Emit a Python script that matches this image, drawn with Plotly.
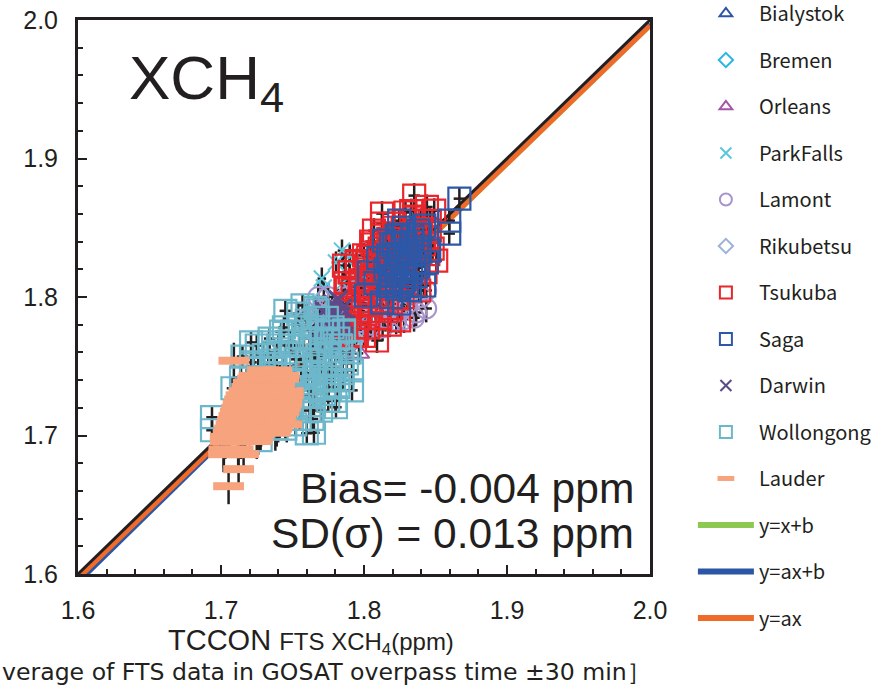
import plotly.graph_objects as go

# ---------------- data (GOSAT vs TCCON XCH4, ppm) ----------------
tsukuba_x = [1.7832,1.7860,1.7870,1.7880,1.7900,1.7920,1.7930,1.7950,1.7960,1.7970,1.7990,1.8000,1.8010,1.8020,1.8040,1.8050,1.8060,1.8070,1.8080,1.8091,1.8100,1.8110,1.8126,1.8126,1.8130,1.8150,1.8160,1.8170,1.8180,1.8200,1.8210,1.8230,1.8246,1.8250,1.8260,1.8280,1.8300,1.8310,1.8330,1.8351,1.8360,1.8380,1.8386,1.8400,1.8420,1.8440,1.8460,1.8491,1.8505,1.8480,1.7950,1.8000,1.8180,1.7900,
             1.787,1.789,1.788,1.790,1.795,1.797,1.796,1.798,1.795,1.803,1.805,1.804,1.806,1.803,1.805,1.811,1.813,1.812,1.814,1.811,1.813,1.819,1.821,1.820,1.822,1.819,1.821,1.827,1.829,1.828,1.830,1.827,1.829,1.835,1.837,1.836,1.838,1.835,1.843,1.845,1.844,1.846]
tsukuba_y = [1.7831,1.8227,1.8100,1.7950,1.8180,1.8050,1.7723,1.8250,1.7900,1.8120,1.8000,1.8300,1.7850,1.8200,1.8080,1.7950,1.8380,1.8479,1.8250,1.7686,1.8150,1.8000,1.8602,1.8530,1.8350,1.8250,1.7900,1.8420,1.8100,1.8300,1.8500,1.8000,1.7831,1.8400,1.8200,1.8550,1.8100,1.8350,1.8620,1.8732,1.8450,1.8250,1.8047,1.8550,1.8380,1.8650,1.8480,1.8623,1.8263,1.8350,1.7780,1.7720,1.7800,1.7850,
             1.779,1.792,1.806,1.818,1.772,1.785,1.797,1.811,1.826,1.778,1.790,1.803,1.816,1.829,1.840,1.785,1.797,1.809,1.822,1.835,1.846,1.792,1.806,1.818,1.829,1.842,1.853,1.800,1.813,1.826,1.839,1.850,1.861,1.809,1.821,1.834,1.848,1.858,1.818,1.831,1.843,1.855]

saga_x = [1.8014,1.8035,1.8080,1.8126,1.8140,1.8150,1.8170,1.8180,1.8200,1.8210,1.8230,1.8246,1.8246,1.8260,1.8270,1.8290,1.8300,1.8320,1.8330,1.8350,1.8360,1.8380,1.8390,1.8421,1.8421,1.8440,1.8456,1.8596,1.8596,1.8667,1.8100,1.8190,
          1.818,1.817,1.819,1.823,1.822,1.824,1.823,1.828,1.827,1.829,1.828,1.833,1.832,1.834,1.838,1.837,1.839,1.830]
saga_y = [1.8011,1.8177,1.8100,1.7960,1.8407,1.8200,1.8300,1.8080,1.8150,1.8380,1.8250,1.7953,1.8551,1.8100,1.8450,1.8200,1.8320,1.8050,1.8400,1.8250,1.8150,1.8480,1.8330,1.8083,1.8515,1.8250,1.8335,1.8551,1.8458,1.8710,1.8280,1.8000,
          1.812,1.825,1.838,1.806,1.818,1.831,1.844,1.812,1.826,1.838,1.850,1.818,1.830,1.843,1.822,1.836,1.845,1.808]

wollongong_x = [1.6937,1.6937,1.7080,1.7210,1.7336,1.7210,1.7570,1.7675,1.7860,1.7916,1.7916,1.7804,1.7600,1.7277,1.7389,
                1.735,1.738,1.740,1.742,1.745,1.748,1.750,1.752,1.755,1.757,1.760,1.762,1.764,1.765,1.768,1.770,1.772,1.775,1.777,1.780,1.782,1.785,1.745,1.730,1.728,1.725,1.755,1.770,
                1.715,1.716,1.714,1.715,1.725,1.724,1.726,1.725,1.735,1.734,1.736,1.735,1.734,1.745,1.744,1.746,1.745,1.744,1.755,1.754,1.756,1.755,1.754,
                1.765,1.764,1.766,1.765,1.764,1.766,1.775,1.774,1.776,1.775,1.774,1.785,1.784,1.786,
                1.720,1.730,1.740,1.750,1.760,1.770,1.780,1.750,1.760,1.740,1.775,1.785,1.765,1.780,1.790,
                1.742,1.748,1.752,1.758,1.762,1.766,1.770,1.772,1.776,1.779,1.782,1.758,1.748,1.738,1.768,1.778,1.788,1.762,1.752,1.740]
wollongong_y = [1.7132,1.7038,1.7341,1.7672,1.7672,1.7528,1.7939,1.7903,1.7759,1.7470,1.7326,1.7204,1.7016,1.6966,1.7052,
                1.745,1.760,1.730,1.775,1.750,1.720,1.765,1.740,1.780,1.728,1.755,1.770,1.712,1.742,1.785,1.760,1.730,1.775,1.748,1.765,1.735,1.755,1.790,1.758,1.740,1.725,1.712,1.718,
                1.715,1.728,1.742,1.757,1.708,1.733,1.748,1.765,1.712,1.725,1.738,1.752,1.770,1.705,1.718,1.732,1.760,1.778,1.720,1.735,1.750,1.765,1.788,
                1.722,1.732,1.752,1.762,1.778,1.792,1.725,1.740,1.758,1.768,1.785,1.740,1.765,1.775,
                1.722,1.715,1.740,1.728,1.745,1.750,1.750,1.775,1.783,1.765,1.735,1.745,1.702,1.725,1.760,
                1.722,1.735,1.755,1.742,1.728,1.745,1.770,1.740,1.752,1.740,1.770,1.770,1.768,1.748,1.758,1.778,1.752,1.718,1.708,1.712]

lauder_x = [1.702,1.712,
            1.703,1.714,1.725,
            1.705,1.716,1.727,1.738,
            1.707,1.718,1.729,1.740,1.746,
            1.709,1.720,1.731,1.742,
            1.711,1.722,1.733,1.745,
            1.713,1.724,1.735,1.746,
            1.716,1.727,1.738,1.747,
            1.719,1.730,1.741,
            1.723,1.733,1.744,
            1.729,1.739,
            1.703,1.714,1.726,
            1.706,1.717,1.728,1.739,
            1.708,1.719,1.730,1.741,
            1.710,1.721,1.732,1.744,
            1.712,1.723,1.734,1.746,
            1.714,1.725,1.736,1.747,
            1.718,1.729,1.740,
            1.722,1.733,1.744,
            1.709,1.7018,1.7158,1.7123,1.7053]
lauder_y = [1.690,1.690,
            1.696,1.696,1.696,
            1.702,1.702,1.702,1.702,
            1.708,1.708,1.708,1.708,1.708,
            1.714,1.714,1.714,1.714,
            1.720,1.720,1.720,1.720,
            1.726,1.726,1.726,1.726,
            1.732,1.732,1.732,1.732,
            1.738,1.738,1.738,
            1.743,1.743,1.743,
            1.747,1.747,
            1.699,1.699,1.699,
            1.705,1.705,1.705,1.705,
            1.711,1.711,1.711,1.711,
            1.717,1.717,1.717,1.717,
            1.723,1.723,1.723,1.723,
            1.729,1.729,1.729,1.729,
            1.735,1.735,1.735,
            1.741,1.741,1.741,
            1.754,1.6865,1.6865,1.6757,1.6634]

darwin_x = [1.770,1.772,1.775,1.776,1.778,1.780,1.781,1.783,1.785,1.773,1.779,1.768,1.786,1.782,1.774,1.777,1.784,1.771,1.779,1.787]
darwin_y = [1.778,1.790,1.770,1.785,1.795,1.776,1.788,1.781,1.792,1.782,1.765,1.772,1.772,1.798,1.776,1.780,1.786,1.784,1.791,1.780]

lamont_x = [1.770,1.775,1.780,1.785,1.790,1.795,1.800,1.805,1.810,1.815,1.820,1.825,1.830,1.835,1.840,1.8435,1.8435,1.8365,1.8225,1.800,1.790,
            1.768,1.778,1.788,1.798,1.808,1.818,1.828,1.783,1.793,1.803,1.813]
lamont_y = [1.790,1.800,1.780,1.795,1.785,1.805,1.790,1.780,1.795,1.785,1.800,1.790,1.795,1.785,1.800,1.8047,1.7917,1.7888,1.7831,1.775,1.770,
            1.800,1.790,1.800,1.782,1.788,1.792,1.784,1.772,1.776,1.798,1.778]

rikubetsu_x = [1.765,1.772,1.780,1.788,1.792,1.760]
rikubetsu_y = [1.775,1.768,1.772,1.778,1.770,1.785]

parkfalls_x = [1.7846,1.7804,1.7705,1.7719,1.790,1.795,1.800,1.785]
parkfalls_y = [1.8335,1.8249,1.8133,1.8068,1.830,1.820,1.815,1.810]

orleans_x = [1.7663,1.7965,1.785,1.800]
orleans_y = [1.7888,1.7593,1.785,1.795]

bialystok_x = [1.810,1.820,1.805]
bialystok_y = [1.810,1.820,1.800]

bremen_x = [1.800,1.810]
bremen_y = [1.810,1.805]

# uncertainties (ppm)
err_x = {"Tsukuba": 0.004, "Saga": 0.004, "Wollongong": 0.004, "Lauder": 0.003, "Darwin": 0.003,
         "Lamont": 0.004, "Rikubetsu": 0.004, "ParkFalls": 0.003, "Orleans": 0.003, "Bialystok": 0.003, "Bremen": 0.003}
err_y = {"Tsukuba": 0.009, "Saga": 0.008, "Wollongong": 0.008, "Lauder": 0.013, "Darwin": 0.008,
         "Lamont": 0.010, "Rikubetsu": 0.008, "ParkFalls": 0.008, "Orleans": 0.008, "Bialystok": 0.008, "Bremen": 0.008}

# regression lines
line_x = [1.6, 2.0]
bias_b = -0.004
fit_a, fit_b = 1.01, -0.0225
prop_a = 0.998

x_ticks = [1.6, 1.7, 1.8, 1.9, 2.0]
y_ticks = [1.6, 1.7, 1.8, 1.9, 2.0]

# ---------------- styles ----------------
sites = [
    ("Bialystok", bialystok_x, bialystok_y, "triangle-up-open", "#2a56a5", 18, 2),
    ("Bremen", bremen_x, bremen_y, "diamond-open", "#29b6e6", 18, 2),
    ("Orleans", orleans_x, orleans_y, "triangle-up-open", "#a555a8", 18, 2),
    ("ParkFalls", parkfalls_x, parkfalls_y, "x-thin", "#5cc6dc", 16, 2),
    ("Lamont", lamont_x, lamont_y, "circle-open", "#a893cc", 20, 2),
    ("Rikubetsu", rikubetsu_x, rikubetsu_y, "diamond-open", "#9db3d5", 18, 2),
    ("Tsukuba", tsukuba_x, tsukuba_y, "square-open", "#e8262b", 22, 2.2),
    ("Saga", saga_x, saga_y, "square-open", "#2c58a7", 22, 2.2),
    ("Darwin", darwin_x, darwin_y, "x-thin", "#5c4a8a", 18, 3),
    ("Wollongong", wollongong_x, wollongong_y, "square-open", "#6db7cb", 22, 2.2),
    ("Lauder", lauder_x, lauder_y, "line-ew", "#f6a37e", 22, 8),
]
legend_size = {"triangle-up-open": 11, "diamond-open": 11, "x-thin": 11, "circle-open": 12,
               "square-open": 12, "line-ew": 12}
legend_lw = {"line-ew": 5}

fig = go.Figure()

# regression / reference lines (drawn first)
fig.add_trace(go.Scatter(x=line_x, y=[v + bias_b for v in line_x], mode="lines",
                         line=dict(color="#8dc853", width=5), showlegend=False, hoverinfo="skip"))
fig.add_trace(go.Scatter(x=line_x, y=[fit_a * v + fit_b for v in line_x], mode="lines",
                         line=dict(color="#2a56a5", width=4), showlegend=False, hoverinfo="skip"))
fig.add_trace(go.Scatter(x=line_x, y=[prop_a * v for v in line_x], mode="lines",
                         line=dict(color="#f06a2a", width=5), showlegend=False, hoverinfo="skip"))
fig.add_trace(go.Scatter(x=line_x, y=line_x, mode="lines",
                         line=dict(color="#231f20", width=3), showlegend=False, hoverinfo="skip"))

# error bars underneath all markers
for name, xs, ys, sym, col, sz, lw in sites:
    fig.add_trace(go.Scatter(
        x=xs, y=ys, mode="markers", marker=dict(size=2, opacity=0),
        error_x=dict(type="constant", value=err_x[name], color="#231f20", thickness=2.5, width=0),
        error_y=dict(type="constant", value=err_y[name], color="#231f20", thickness=2.5, width=0),
        showlegend=False, hoverinfo="skip"))

# site markers
for name, xs, ys, sym, col, sz, lw in sites:
    fig.add_trace(go.Scatter(
        x=xs, y=ys, mode="markers", name=name, legendgroup=name, showlegend=False,
        marker=dict(symbol=sym, size=sz, color=col, line=dict(color=col, width=lw))))

# legend entries
for name, xs, ys, sym, col, sz, lw in sites:
    fig.add_trace(go.Scatter(
        x=[None], y=[None], mode="markers", name=name, legendgroup=name,
        marker=dict(symbol=sym, size=legend_size[sym], color=col,
                    line=dict(color=col, width=legend_lw.get(sym, 2)))))
for name, col in [("y=x+b", "#8dc853"), ("y=ax+b", "#2a56a5"), ("y=ax", "#f06a2a")]:
    fig.add_trace(go.Scatter(x=[None], y=[None], mode="lines", name=name, legendgroup=name,
                             line=dict(color=col, width=6)))

tick_font = dict(family="Liberation Sans Narrow, Arial Narrow, Liberation Sans, Arial", size=25, color="#231f20")
axis_common = dict(showgrid=False, zeroline=False, showline=True, linecolor="#231f20", linewidth=3,
                   mirror=True, ticks="inside", ticklen=9, tickwidth=1.5, tickcolor="#231f20",
                   tickfont=tick_font, ticklabelstandoff=12,
                   minor=dict(ticks="inside", ticklen=5, tickwidth=1.5, tickcolor="#231f20", dtick=0.02, tick0=1.6))

fig.update_xaxes(range=[1.6, 2.0], tickvals=x_ticks, ticktext=[f"{v:.1f}" for v in x_ticks], **axis_common)
fig.update_yaxes(range=[1.6, 2.0], tickvals=y_ticks, ticktext=[f"{v:.1f}" for v in y_ticks], **axis_common)

fig.add_annotation(x=1.634, y=1.985, xref="x", yref="y", xanchor="left", yanchor="top",
                   text="XCH<sub>4</sub>", showarrow=False,
                   font=dict(family="Liberation Sans, Arial", size=62, color="#231f20"))
fig.add_annotation(x=1.990, y=1.6614, xref="x", yref="y", xanchor="right", yanchor="middle",
                   text="Bias= -0.004 ppm", showarrow=False,
                   font=dict(family="Liberation Sans, Arial", size=42.5, color="#231f20"))
fig.add_annotation(x=1.990, y=1.6289, xref="x", yref="y", xanchor="right", yanchor="middle",
                   text="SD(σ) = 0.013 ppm", showarrow=False,
                   font=dict(family="Liberation Sans, Arial", size=42.5, color="#231f20"))
fig.add_annotation(x=0.407, y=-0.121, xref="paper", yref="paper", xanchor="center", yanchor="middle",
                   text="TCCON <span style='font-size:24px'>FTS XCH<sub>4</sub>(ppm)</span>", showarrow=False,
                   font=dict(family="Liberation Sans Narrow, Arial Narrow, Liberation Sans, Arial", size=29, color="#231f20"))
fig.add_annotation(x=-0.136, y=-0.177, xref="paper", yref="paper", xanchor="left", yanchor="middle",
                   text="verage of FTS data in GOSAT overpass time ±30 min］", showarrow=False,
                   font=dict(family="DejaVu Sans", size=23.6, color="#231f20"))

fig.update_layout(
    width=881, height=691,
    margin=dict(l=78, r=231, t=20, b=117, autoexpand=False),
    plot_bgcolor="white", paper_bgcolor="white",
    legend=dict(x=1.075, y=1.047, xanchor="left", yanchor="top", itemwidth=56, maxheight=691,
                font=dict(family="Noto Sans CJK JP", size=20, color="#231f20"),
                tracegroupgap=17.5, bgcolor="rgba(0,0,0,0)"),
)

fig.write_html("out.html")
